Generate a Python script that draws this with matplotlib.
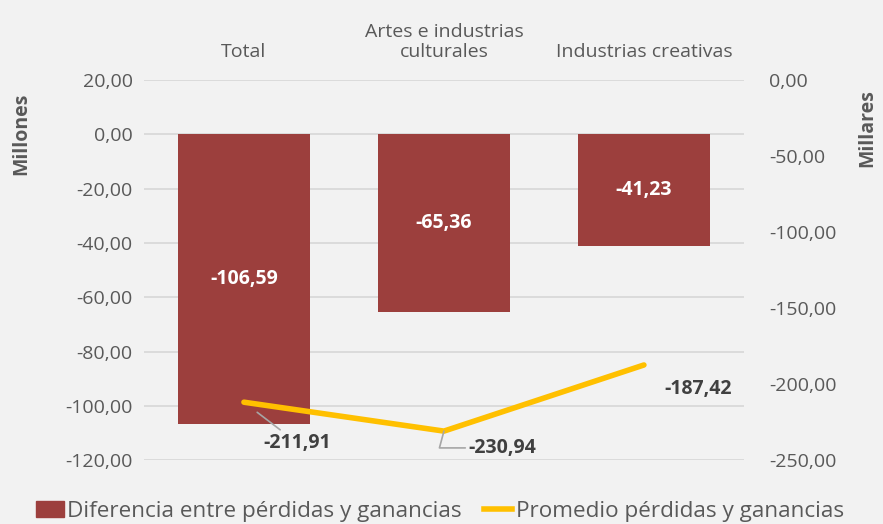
import numpy as np
import matplotlib
matplotlib.use("Agg")
from matplotlib import pyplot as plt
from matplotlib.patches import Patch
from matplotlib.lines import Line2D

categorias = ["Total", "Artes e industrias\nculturales", "Industrias creativas"]
diferencia = [-106.59, -65.36, -41.23]      # millones
promedio = [-211.91, -230.94, -187.42]      # millares

rojo = "#9C3F3D"
amarillo = "#FFC000"
gris = "#595959"
fondo = "#F2F2F2"

plt.rcParams['font.family'] = ['Open Sans', 'DejaVu Sans']

def fmt(v):
    return ("%.2f" % v).replace(".", ",")

fs = 14
fig = plt.figure(figsize=(8.83, 5.24), dpi=100, facecolor=fondo)
ax1 = fig.add_axes([0.163, 0.122, 0.6795, 0.725], facecolor=fondo)
ax2 = ax1.twinx()

x = np.arange(len(categorias))
ax1.bar(x, diferencia, width=0.66, color=rojo, zorder=2)
ax1.set_ylim(-120, 20)
ax1.set_yticks(np.arange(-120, 21, 20))
ax1.set_yticklabels([fmt(v) for v in np.arange(-120, 21, 20)])
ax1.set_xlim(-0.5, 2.5)
ax1.grid(axis='y', color="#D9D9D9", linewidth=1.3, zorder=0)
ax1.set_axisbelow(True)
ax1.xaxis.tick_top()
ax1.set_xticks(x)
ax1.set_xticklabels(categorias, fontsize=fs, color=gris, linespacing=1.1)

ax2.plot(x, promedio, color=amarillo, linewidth=4, solid_capstyle='round', zorder=3)
ax2.set_ylim(-250, 0)
ax2.set_yticks(np.arange(-250, 1, 50))
ax2.set_yticklabels([fmt(v) for v in np.arange(-250, 1, 50)])

for a in (ax1, ax2):
    for s in a.spines.values():
        s.set_visible(False)
    a.tick_params(length=0, labelsize=fs, labelcolor=gris, pad=8)
ax1.tick_params(axis='x', pad=14)
ax2.tick_params(axis='y', pad=18)

# etiquetas de barras
for i, v in enumerate(diferencia):
    ax1.text(i, v / 2, fmt(v), ha='center', va='center', color='white',
             fontsize=fs, fontweight='bold', zorder=4)

# etiquetas de línea con guías
ax2.annotate(fmt(promedio[0]), xy=(x[0], promedio[0]), xytext=(0.265, -238.5),
             ha='center', va='center', fontsize=fs, fontweight='bold', color="#404040",
             arrowprops=dict(arrowstyle='-', color="#A6A6A6", lw=1.2,
                             shrinkA=0, shrinkB=12))
ax2.annotate(fmt(promedio[1]), xy=(x[1], promedio[1]), xytext=(1.29, -242),
             ha='center', va='center', fontsize=fs, fontweight='bold', color="#404040",
             arrowprops=dict(arrowstyle='-', color="#A6A6A6", lw=1.2,
                             connectionstyle="angle,angleA=0,angleB=75,rad=0",
                             shrinkA=38, shrinkB=0))
ax2.text(2.27, -203, fmt(promedio[2]), ha='center', va='center', fontsize=fs,
         fontweight='bold', color="#404040")

fig.text(0.024, 0.745, "Millones", rotation=90, ha='center', va='center',
         fontsize=fs, fontweight='bold', color=gris)
fig.text(0.982, 0.755, "Millares", rotation=90, ha='center', va='center',
         fontsize=fs, fontweight='bold', color=gris)

handles = [Patch(color=rojo), Line2D([0], [0], color=amarillo, linewidth=4)]
fig.legend(handles, ["Diferencia entre pérdidas y ganancias", "Promedio pérdidas y ganancias"],
           loc='center', bbox_to_anchor=(0.498, 0.024), ncol=2, frameon=False,
           fontsize=16.2, labelcolor=gris, handlelength=1.25, handletextpad=0.15,
           columnspacing=1.0, handleheight=0.75)

fig.savefig("out.png", dpi=100, facecolor=fondo)
